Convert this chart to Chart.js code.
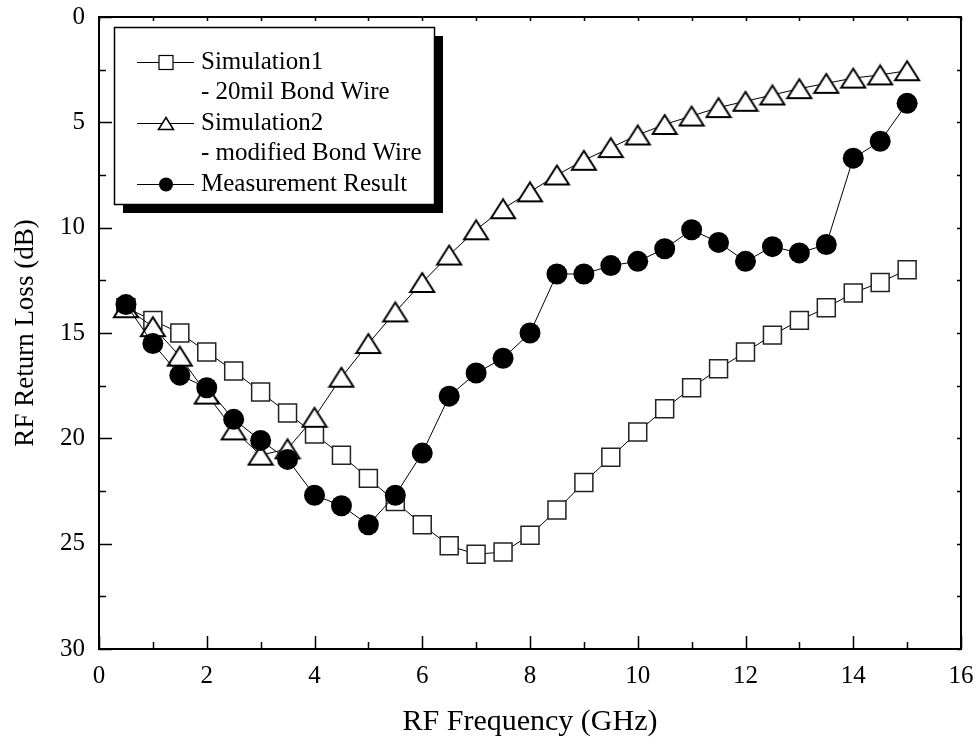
<!DOCTYPE html>
<html>
<head>
<meta charset="utf-8">
<script src="https://cdn.jsdelivr.net/npm/chart.js@4/dist/chart.umd.min.js"></script>
<style>
  html, body { margin: 0; padding: 0; background: #fff; }
</style>
</head>
<body>
<canvas id="rlChart" width="980" height="747"></canvas>
<script>
// frequency points (GHz)
const freq = [0.5, 1, 1.5, 2, 2.5, 3, 3.5, 4, 4.5, 5, 5.5, 6, 6.5, 7, 7.5, 8,
              8.5, 9, 9.5, 10, 10.5, 11, 11.5, 12, 12.5, 13, 13.5, 14, 14.5, 15];
// return loss (dB)
const sim1 = [13.8, 14.4, 15.0, 15.9, 16.8, 17.8, 18.8, 19.8, 20.8, 21.9, 23.0, 24.1, 25.1, 25.5, 25.4,
              24.6, 23.4, 22.1, 20.9, 19.7, 18.6, 17.6, 16.7, 15.9, 15.1, 14.4, 13.8, 13.1, 12.6, 12.0];
const sim2 = [13.8, 14.7, 16.1, 17.9, 19.6, 20.8, 20.5, 19.0, 17.1, 15.5, 14.0, 12.6, 11.3, 10.1, 9.1,
              8.3, 7.5, 6.8, 6.2, 5.6, 5.1, 4.7, 4.3, 4.0, 3.7, 3.4, 3.15, 2.9, 2.75, 2.55];
const meas = [13.65, 15.5, 17.0, 17.6, 19.1, 20.1, 21.0, 22.7, 23.2, 24.1, 22.7, 20.7, 18.0, 16.9, 16.2,
              15.0, 12.2, 12.2, 11.8, 11.6, 11.0, 10.1, 10.7, 11.6, 10.9, 11.2, 10.8, 6.7, 5.9, 4.1];
const xTicks = [0, 2, 4, 6, 8, 10, 12, 14, 16];
const yTicks = [0, 5, 10, 15, 20, 25, 30];
const legendLines = ['Simulation1', '- 20mil Bond Wire', 'Simulation2', '- modified Bond Wire', 'Measurement Result'];

const SERIF = '"Liberation Serif", "Times New Roman", serif';

// open triangle marker, centred on its bounding box
function makeTriangle(w, h, lw) {
    const c = document.createElement('canvas');
    c.width = Math.ceil(w + lw * 2);
    c.height = Math.ceil(h + lw * 2);
    const g = c.getContext('2d');
    g.lineWidth = lw;
    g.strokeStyle = '#000';
    g.fillStyle = '#fff';
    g.beginPath();
    g.moveTo(c.width / 2, lw);
    g.lineTo(c.width - lw, c.height - lw);
    g.lineTo(lw, c.height - lw);
    g.closePath();
    g.fill();
    g.stroke();
    return c;
}
const triBig = makeTriangle(24, 19, 2);
const triSmall = makeTriangle(15, 12, 1.5);

function pts(ys) {
    return freq.map((f, i) => ({ x: f, y: ys[i] }));
}

// frame, inward ticks and the boxed legend
const framePlugin = {
    id: 'frame',
    afterDraw(chart) {
        const ctx = chart.ctx;
        const a = chart.chartArea;
        const xs = chart.scales.x, ys = chart.scales.y;
        ctx.save();
        ctx.strokeStyle = '#000';
        ctx.lineWidth = 2;
        ctx.strokeRect(a.left, a.top, a.right - a.left, a.bottom - a.top);

        ctx.beginPath();
        for (let v = 0; v <= 16; v++) {
            const px = Math.round(xs.getPixelForValue(v)) + 0.5;
            const len = v % 2 === 0 ? 13 : 7;
            ctx.moveTo(px, a.bottom); ctx.lineTo(px, a.bottom - len);
            ctx.moveTo(px, a.top); ctx.lineTo(px, a.top + 4);
        }
        for (let v = 0; v <= 30; v += 2.5) {
            const py = Math.round(ys.getPixelForValue(v)) + 0.5;
            const len = v % 5 === 0 ? 13 : 7;
            ctx.moveTo(a.left, py); ctx.lineTo(a.left + len, py);
            ctx.moveTo(a.right, py); ctx.lineTo(a.right - 4, py);
        }
        ctx.lineWidth = 1.5;
        ctx.stroke();

        // legend box with drop shadow
        const bx = 114, by = 27, bw = 320, bh = 177;
        ctx.fillStyle = '#000';
        ctx.fillRect(bx + 9, by + 9, bw, bh);
        ctx.fillStyle = '#fff';
        ctx.fillRect(bx, by, bw, bh);
        ctx.lineWidth = 1.5;
        ctx.strokeRect(bx + 0.5, by + 0.5, bw, bh);

        const rows = [62, 92, 123, 153, 184];
        ctx.font = '25px ' + SERIF;
        ctx.textBaseline = 'middle';
        ctx.textAlign = 'left';
        ctx.fillStyle = '#000';
        legendLines.forEach((t, i) => ctx.fillText(t, 201, rows[i]));

        [0, 2, 4].forEach((r, k) => {
            const y = rows[r] + 0.5;
            ctx.beginPath();
            ctx.moveTo(137, y); ctx.lineTo(194, y);
            ctx.lineWidth = 1.2;
            ctx.stroke();
            const mx = 166;
            if (k === 0) {
                ctx.fillStyle = '#fff';
                ctx.fillRect(mx - 7, y - 7, 14, 14);
                ctx.lineWidth = 1.2;
                ctx.strokeRect(mx - 7, y - 7, 14, 14);
            } else if (k === 1) {
                ctx.drawImage(triSmall, mx - triSmall.width / 2, y - triSmall.height / 2);
            } else {
                ctx.fillStyle = '#000';
                ctx.beginPath();
                ctx.arc(mx, y, 7, 0, Math.PI * 2);
                ctx.fill();
            }
        });
        ctx.restore();
    }
};

const ctx = document.getElementById('rlChart').getContext('2d');
const rlChart = new Chart(ctx, {
    type: 'line',
    data: {
        datasets: [{
            label: 'Simulation1',
            data: pts(sim1),
            borderColor: '#000',
            borderWidth: 1,
            pointStyle: 'rect',
            pointRadius: 12.7,
            pointBackgroundColor: '#fff',
            pointBorderColor: '#222',
            pointBorderWidth: 1.5,
            order: 3
        }, {
            label: 'Simulation2',
            data: pts(sim2),
            borderColor: '#000',
            borderWidth: 1,
            pointStyle: triBig,
            order: 2
        }, {
            label: 'Measurement Result',
            data: pts(meas),
            borderColor: '#000',
            borderWidth: 1,
            pointStyle: 'circle',
            pointRadius: 10.5,
            pointBackgroundColor: '#000',
            pointBorderColor: '#000',
            pointBorderWidth: 0,
            order: 1
        }]
    },
    options: {
        responsive: false,
        animation: false,
        layout: { padding: { top: 17, right: 19, left: 0, bottom: 0 } },
        plugins: {
            legend: { display: false },
            tooltip: { enabled: false }
        },
        scales: {
            x: {
                type: 'linear',
                min: 0,
                max: 16,
                afterBuildTicks: s => { s.ticks = xTicks.map(v => ({ value: v })); },
                afterFit: s => { s.height = 98; s.paddingLeft = 0; s.paddingRight = 0; },
                grid: { display: false, drawTicks: false },
                border: { display: false },
                ticks: { color: '#000', padding: 12, font: { family: SERIF, size: 25 } },
                title: {
                    display: true,
                    text: 'RF Frequency (GHz)',
                    color: '#000',
                    padding: { bottom: 7 },
                    font: { family: SERIF, size: 30 }
                }
            },
            y: {
                type: 'linear',
                reverse: true,
                min: 0,
                max: 30,
                afterBuildTicks: s => { s.ticks = yTicks.map(v => ({ value: v })); },
                afterFit: s => { s.width = 99; s.paddingTop = 0; s.paddingBottom = 0; },
                grid: { display: false, drawTicks: false },
                border: { display: false },
                ticks: { color: '#000', padding: 14, font: { family: SERIF, size: 25 } },
                title: {
                    display: true,
                    text: 'RF Return Loss (dB)',
                    color: '#000',
                    padding: { top: 10 },
                    font: { family: SERIF, size: 27 }
                }
            }
        }
    },
    plugins: [framePlugin]
});
</script>
</body>
</html>
